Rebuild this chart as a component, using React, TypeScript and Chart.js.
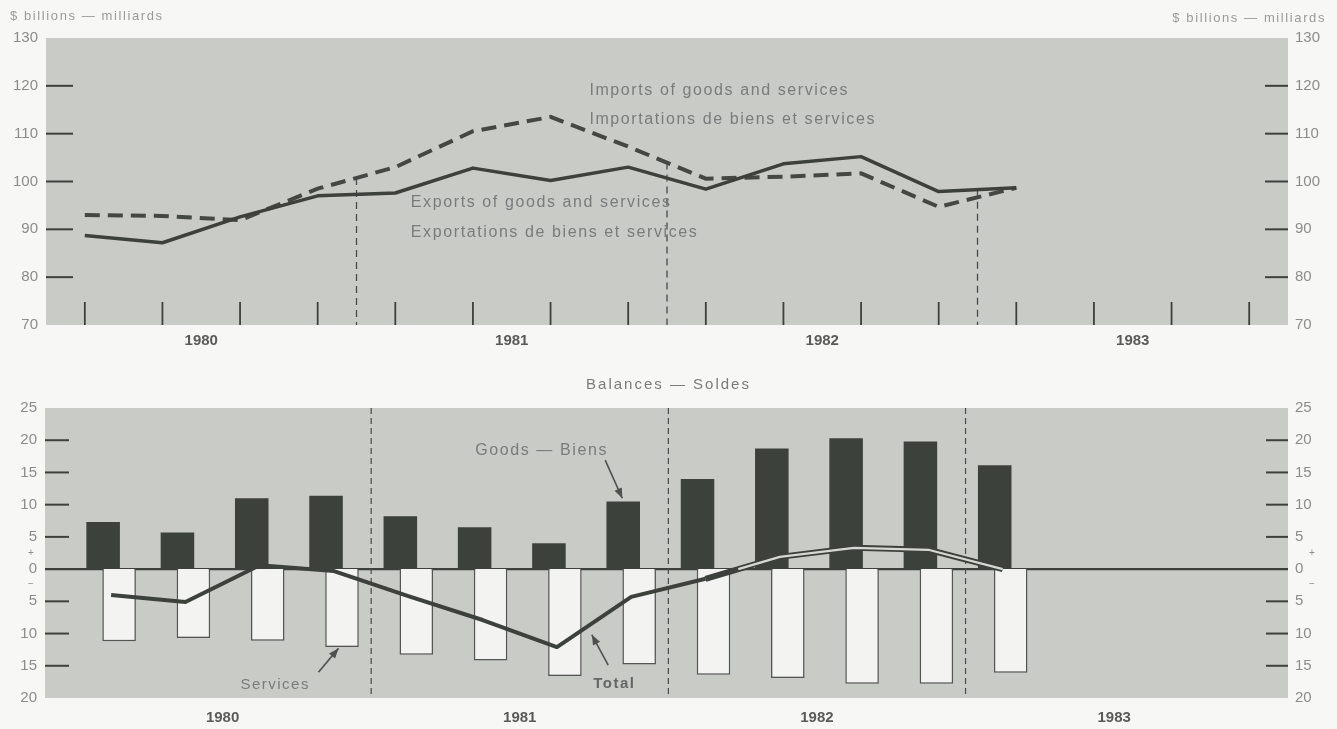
import React, { useEffect, useRef } from "react";
import { Chart, registerables } from "chart.js";

Chart.register(...registerables);

// ---------- data ----------
const quarters = [
  "1980 I", "1980 II", "1980 III", "1980 IV",
  "1981 I", "1981 II", "1981 III", "1981 IV",
  "1982 I", "1982 II", "1982 III", "1982 IV",
  "1983 I", "1983 II", "1983 III", "1983 IV",
];
const years = ["1980", "1981", "1982", "1983"];

// $ billions
const exportsGS = [88.7, 87.2, 92.6, 97.0, 97.6, 102.8, 100.2, 103.0, 98.4, 103.7, 105.2, 97.9, 98.7];
const importsGS = [93.0, 92.8, 91.9, 98.5, 103.0, 110.5, 113.5, 107.3, 100.6, 101.0, 101.7, 94.7, 98.7];

// Balances
const goodsBalance = [7.3, 5.7, 11.0, 11.4, 8.2, 6.5, 4.0, 10.5, 14.0, 18.7, 20.3, 19.8, 16.1];
const servicesBalance = [-11.2, -10.7, -11.1, -12.1, -13.3, -14.2, -16.6, -14.8, -16.4, -16.9, -17.8, -17.8, -16.1];
const totalBalance = [-4.0, -5.1, 0.6, -0.3, -4.2, -7.9, -12.1, -4.3, -1.5, 1.9, 3.3, 3.0, 0.0];

const topAxisTicks = [70, 80, 90, 100, 110, 120, 130];
const bottomAxisTicks = [-20, -15, -10, -5, 0, 5, 10, 15, 20, 25];

const unitLabel = "$ billions — milliards";
const balancesTitle = "Balances — Soldes";
const importsLabel = ["Imports of goods and services", "Importations de biens et services"];
const exportsLabel = ["Exports of goods and services", "Exportations de biens et services"];
const goodsLabel = "Goods — Biens";
const servicesLabel = "Services";
const totalLabel = "Total";

// ---------- style ----------
const FONT = "'Liberation Sans', Arial, Helvetica, sans-serif";
const PAGE_BG = "#f7f7f5";
const PLOT_BG = "#c9cbc7";
const INK = "#3d413c";
const LABEL = "#8c8c8c";
const NOTE = "#7b7b7b";
const YEAR = "#5a5a5a";

const xy = (arr: number[]) => arr.map((v, i) => ({ x: i, y: v }));
const yearCenters = years.map((_, i) => i * 4 + 1.5);
const yearBoundaries = years.slice(1).map((_, i) => (i + 1) * 4 - 0.5);

// index of the last negative -> positive crossing of the total balance
let lastCrossing = -1;
for (let i = 1; i < totalBalance.length; i++) {
  if (totalBalance[i - 1] < 0 && totalBalance[i] > 0) lastCrossing = i - 1;
}

function line(ctx: CanvasRenderingContext2D, x1: number, y1: number, x2: number, y2: number) {
  ctx.beginPath();
  ctx.moveTo(x1, y1);
  ctx.lineTo(x2, y2);
  ctx.stroke();
}

function text(
  ctx: CanvasRenderingContext2D,
  s: string,
  x: number,
  y: number,
  size: number,
  color: string,
  spacing: number,
  align: CanvasTextAlign = "left",
  weight = "normal"
) {
  ctx.save();
  ctx.font = `${weight} ${size}px ${FONT}`;
  ctx.fillStyle = color;
  ctx.textBaseline = "middle";
  ctx.textAlign = align;
  (ctx as any).letterSpacing = `${spacing}px`;
  ctx.fillText(s, x, y);
  ctx.restore();
}

function arrow(ctx: CanvasRenderingContext2D, x1: number, y1: number, x2: number, y2: number) {
  ctx.save();
  ctx.strokeStyle = "#505050";
  ctx.fillStyle = "#505050";
  ctx.lineWidth = 1.6;
  line(ctx, x1, y1, x2, y2);
  const a = Math.atan2(y2 - y1, x2 - x1);
  const L = 10;
  const W = 4;
  ctx.beginPath();
  ctx.moveTo(x2, y2);
  ctx.lineTo(x2 - L * Math.cos(a) + W * Math.sin(a), y2 - L * Math.sin(a) - W * Math.cos(a));
  ctx.lineTo(x2 - L * Math.cos(a) - W * Math.sin(a), y2 - L * Math.sin(a) + W * Math.cos(a));
  ctx.closePath();
  ctx.fill();
  ctx.restore();
}

const plotBackground = {
  id: "plotBackground",
  beforeDraw(chart: any) {
    const { ctx, chartArea: a } = chart;
    ctx.save();
    ctx.fillStyle = PLOT_BG;
    ctx.fillRect(a.left, a.top, a.right - a.left, a.bottom - a.top);
    ctx.restore();
  },
};

// ---------- top chart decorations ----------
const topDecor = {
  id: "topDecor",
  beforeDatasetsDraw(chart: any) {
    const { ctx, chartArea: a, scales } = chart;
    const x = scales.x;
    const y = scales.y;
    ctx.save();
    ctx.strokeStyle = INK;
    ctx.lineWidth = 2;
    topAxisTicks.slice(1, -1).forEach((v) => {
      const py = y.getPixelForValue(v);
      line(ctx, a.left, py, a.left + 27, py);
      line(ctx, a.right - 23, py, a.right, py);
    });
    ctx.lineWidth = 1.8;
    quarters.forEach((_, i) => {
      const px = x.getPixelForValue(i);
      line(ctx, px, a.bottom - 23, px, a.bottom);
    });
    // year boundaries (dashed, from the upper curve down)
    const m0 = chart.getDatasetMeta(0).data;
    const m1 = chart.getDatasetMeta(1).data;
    ctx.lineWidth = 1.3;
    ctx.strokeStyle = "#4a4a4a";
    ctx.setLineDash([7, 5]);
    yearBoundaries.forEach((b) => {
      const i = Math.floor(b);
      const px = x.getPixelForValue(b);
      let top = a.top;
      if (m0[i + 1] && m1[i + 1]) {
        top = Math.min((m0[i].y + m0[i + 1].y) / 2, (m1[i].y + m1[i + 1].y) / 2);
      }
      line(ctx, px, top, px, a.bottom);
    });
    ctx.restore();
  },
  afterDatasetsDraw(chart: any) {
    const { ctx, scales, width } = chart;
    const x = scales.x;
    const y = scales.y;
    text(ctx, importsLabel[0], x.getPixelForValue(6.5), y.getPixelForValue(119.1), 16, NOTE, 1.6);
    text(ctx, importsLabel[1], x.getPixelForValue(6.5), y.getPixelForValue(113.0), 16, NOTE, 1.6);
    text(ctx, exportsLabel[0], x.getPixelForValue(4.2), y.getPixelForValue(95.5), 16, NOTE, 1.6);
    text(ctx, exportsLabel[1], x.getPixelForValue(4.2), y.getPixelForValue(89.4), 16, NOTE, 1.6);
    text(ctx, unitLabel, 10, 16, 13, "#9a9a9a", 1.6, "left");
    text(ctx, unitLabel, width - 11, 18, 13, "#9a9a9a", 1.6, "right");
  },
};

// ---------- bottom chart decorations ----------
const bottomDecor = {
  id: "bottomDecor",
  beforeDatasetsDraw(chart: any) {
    const { ctx, chartArea: a, scales } = chart;
    const x = scales.x;
    const y = scales.y;
    ctx.save();
    ctx.strokeStyle = INK;
    ctx.lineWidth = 2;
    bottomAxisTicks
      .filter((v, i) => v !== 0 && i > 0 && i < bottomAxisTicks.length - 1)
      .forEach((v) => {
        const py = y.getPixelForValue(v);
        line(ctx, a.left, py, a.left + 24, py);
        line(ctx, a.right - 22, py, a.right, py);
      });
    // zero line
    const zy = y.getPixelForValue(0);
    ctx.lineWidth = 2.2;
    line(ctx, a.left, zy, a.right, zy);
    // year boundaries
    ctx.lineWidth = 1.2;
    ctx.strokeStyle = "#4a4a4a";
    ctx.setLineDash([6, 4]);
    yearBoundaries.forEach((b) => {
      const px = x.getPixelForValue(b);
      line(ctx, px, a.top, px, a.bottom);
    });
    ctx.restore();
  },
  afterDatasetsDraw(chart: any) {
    const { ctx, scales, width } = chart;
    const x = scales.x;
    const y = scales.y;
    // light core of the Total line once it turns positive
    const pts = chart.getDatasetMeta(0).data;
    const k = lastCrossing;
    if (k >= 0) {
      const t = (0 - totalBalance[k]) / (totalBalance[k + 1] - totalBalance[k]);
      const sx = pts[k].x + t * (pts[k + 1].x - pts[k].x);
      const sy = pts[k].y + t * (pts[k + 1].y - pts[k].y);
      ctx.save();
      ctx.strokeStyle = "#d6d8d3";
      ctx.lineWidth = 2.2;
      ctx.lineJoin = "round";
      ctx.beginPath();
      ctx.moveTo(sx, sy);
      for (let i = k + 1; i < pts.length; i++) ctx.lineTo(pts[i].x, pts[i].y);
      ctx.stroke();
      ctx.restore();
    }
    // annotations
    text(ctx, goodsLabel, x.getPixelForValue(4.9), y.getPixelForValue(18.4), 16, NOTE, 1.6);
    arrow(ctx, x.getPixelForValue(6.65), y.getPixelForValue(16.9), x.getPixelForValue(6.88), y.getPixelForValue(11.0));
    text(ctx, servicesLabel, x.getPixelForValue(1.74), y.getPixelForValue(-18.0), 15, NOTE, 1.5);
    arrow(ctx, x.getPixelForValue(2.79), y.getPixelForValue(-16.0), x.getPixelForValue(3.06), y.getPixelForValue(-12.3));
    text(ctx, totalLabel, x.getPixelForValue(6.49), y.getPixelForValue(-17.8), 15, "#666", 1.5, "left", "bold");
    arrow(ctx, x.getPixelForValue(6.69), y.getPixelForValue(-14.9), x.getPixelForValue(6.47), y.getPixelForValue(-10.2));
    // title
    text(ctx, balancesTitle, width / 2, 30, 15, NOTE, 2, "center");
    // +/- signs next to the zero labels
    [2.4, -2.4].forEach((v) => {
      const s = v > 0 ? "+" : "−";
      text(ctx, s, 31, y.getPixelForValue(v), 10, LABEL, 0, "center");
      text(ctx, s, width - 25, y.getPixelForValue(v), 10, LABEL, 0, "center");
    });
  },
};

function yAxis(position: string, min: number, max: number, step: number, width: number, padding: number, abs: boolean) {
  return {
    position,
    min,
    max,
    grid: { display: false, drawTicks: false },
    border: { display: false },
    afterFit: (s: any) => {
      s.width = width;
    },
    ticks: {
      stepSize: step,
      padding,
      color: LABEL,
      font: { family: FONT, size: 15 },
      callback: (v: any) => (abs ? String(Math.abs(Number(v))) : String(v)),
    },
  };
}

function xAxis(min: number, max: number, height: number, padding: number) {
  return {
    type: "linear",
    min,
    max,
    offset: false,
    grid: { display: false, drawTicks: false, offset: false },
    border: { display: false },
    afterBuildTicks: (s: any) => {
      s.ticks = yearCenters.map((v) => ({ value: v }));
    },
    afterFit: (s: any) => {
      s.height = height;
    },
    ticks: {
      autoSkip: false,
      maxRotation: 0,
      padding,
      color: YEAR,
      font: { family: FONT, size: 15, weight: "bold" },
      callback: (v: any) => years[Math.round((Number(v) - 1.5) / 4)] ?? "",
    },
  };
}

function topConfig(): any {
  return {
    type: "line",
    data: {
      datasets: [
        {
          label: exportsLabel[0],
          data: xy(exportsGS),
          borderColor: INK,
          borderWidth: 3.5,
          pointRadius: 0,
          tension: 0,
          borderJoinStyle: "round",
        },
        {
          label: importsLabel[0],
          data: xy(importsGS),
          borderColor: "#444843",
          borderWidth: 4,
          borderDash: [15, 8],
          pointRadius: 0,
          tension: 0,
        },
      ],
    },
    options: {
      animation: false,
      responsive: true,
      maintainAspectRatio: false,
      layout: { padding: { top: 38, left: 0, right: 0, bottom: 0 } },
      plugins: { legend: { display: false }, tooltip: { enabled: false } },
      scales: {
        x: xAxis(-0.5, 15.5, 30, 7),
        y: yAxis("left", 70, 130, 10, 46, 8, false),
        y2: yAxis("right", 70, 130, 10, 49, 7, false),
      },
    },
    plugins: [plotBackground, topDecor],
  };
}

function bottomConfig(): any {
  return {
    type: "bar",
    data: {
      datasets: [
        {
          type: "line",
          label: totalLabel,
          data: xy(totalBalance),
          borderColor: INK,
          borderWidth: 4,
          segment: {
            borderWidth: (c: any) => (lastCrossing >= 0 && c.p0DataIndex >= lastCrossing ? 6 : 4),
          },
          pointRadius: 0,
          tension: 0,
          borderJoinStyle: "round",
          order: 0,
        },
        {
          type: "bar",
          label: goodsLabel,
          data: xy(goodsBalance),
          backgroundColor: INK,
          borderWidth: 0,
          categoryPercentage: 0.43,
          barPercentage: 2.1,
          order: 1,
        },
        {
          type: "bar",
          label: servicesLabel,
          data: xy(servicesBalance),
          backgroundColor: "#f3f4f1",
          borderColor: "#555",
          borderWidth: 1.5,
          categoryPercentage: 0.43,
          barPercentage: 2.1,
          order: 1,
        },
      ],
    },
    options: {
      animation: false,
      responsive: true,
      maintainAspectRatio: false,
      layout: { padding: { top: 53, left: 0, right: 0, bottom: 0 } },
      plugins: { legend: { display: false }, tooltip: { enabled: false } },
      scales: {
        x: xAxis(-0.89, 15.84, 31, 11),
        y: yAxis("left", -20, 25, 5, 45, 8, true),
        y2: yAxis("right", -20, 25, 5, 49, 7, true),
      },
    },
    plugins: [plotBackground, bottomDecor],
  };
}

export default function App() {
  const topRef = useRef<HTMLCanvasElement>(null);
  const botRef = useRef<HTMLCanvasElement>(null);
  useEffect(() => {
    const top = new Chart(topRef.current as HTMLCanvasElement, topConfig());
    const bot = new Chart(botRef.current as HTMLCanvasElement, bottomConfig());
    return () => {
      top.destroy();
      bot.destroy();
    };
  }, []);
  return (
    <div
      style={{
        position: "fixed",
        left: 0,
        top: 0,
        width: 1337,
        height: 729,
        background: PAGE_BG,
        overflow: "hidden",
      }}
    >
      <div style={{ position: "absolute", left: 0, top: 0, width: 1337, height: 355 }}>
        <canvas ref={topRef} />
      </div>
      <div style={{ position: "absolute", left: 0, top: 355, width: 1337, height: 374 }}>
        <canvas ref={botRef} />
      </div>
    </div>
  );
}
